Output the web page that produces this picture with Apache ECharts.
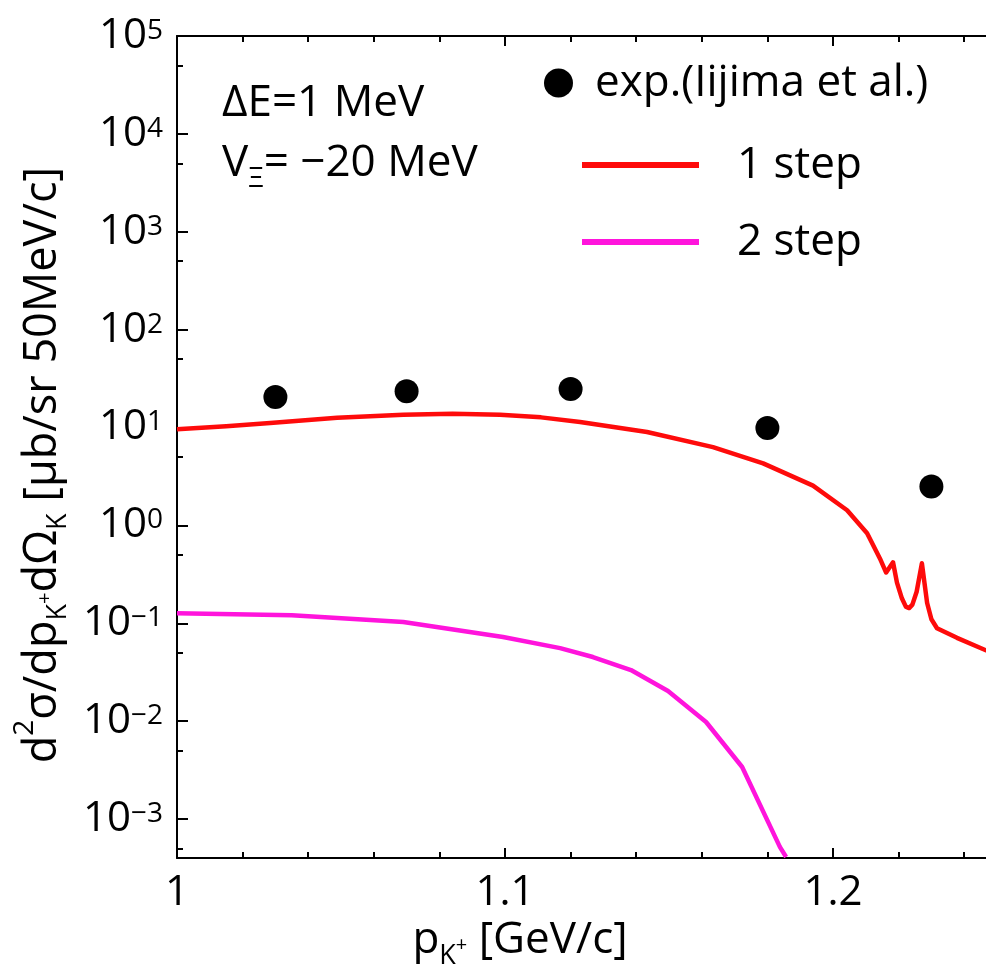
<!DOCTYPE html>
<html><head><meta charset="utf-8">
<script src="https://cdn.jsdelivr.net/npm/echarts@6/dist/echarts.min.js"></script>
<style>html,body{margin:0;padding:0;background:#fff}#c{width:986px;height:974px}</style>
</head><body><div id="c"></div>
<script>
// ---- data ----
const xMajorTicks = [1.0, 1.1, 1.2];
const xMinorTicks = [1.02, 1.04, 1.06, 1.08, 1.12, 1.14, 1.16, 1.18, 1.22, 1.24];
const yMajorTicks = [1e-3, 1e-2, 1e-1, 1e0, 1e1, 1e2, 1e3, 1e4, 1e5];
const yMinorTicks = [5e-4, 5e-3, 5e-2, 5e-1, 5e0, 5e1, 5e2, 5e3, 5e4];

const expX = [1.03, 1.07, 1.12, 1.18, 1.23];
const expY = [20.5, 23.5, 24.7, 9.9, 2.5];

const oneStepX = [1.000, 1.0150, 1.0284, 1.0488, 1.069, 1.084, 1.0985, 1.1110, 1.1229, 1.1433, 1.1634, 1.1787, 1.1939, 1.2043, 1.2104, 1.2143, 1.2162, 1.2183, 1.2195, 1.2210, 1.2222, 1.2232, 1.2242, 1.2255, 1.2271, 1.2287, 1.2300, 1.2317, 1.2378, 1.2466, 1.2500];
const oneStepY = [9.6, 10.3, 11.1, 12.6, 13.5, 13.8, 13.5, 12.7, 11.4, 9.0, 6.3, 4.3, 2.55, 1.43, 0.83, 0.46, 0.33, 0.42, 0.26, 0.18, 0.148, 0.143, 0.155, 0.21, 0.41, 0.161, 0.11, 0.089, 0.071, 0.053, 0.050];

const twoStepX = [1.000, 1.035, 1.069, 1.0994, 1.1168, 1.1268, 1.1384, 1.1497, 1.1613, 1.1723, 1.1838, 1.1857];
const twoStepY = [0.127, 0.121, 0.103, 0.0723, 0.0558, 0.0452, 0.0333, 0.0203, 0.0098, 0.0034, 0.00052, 0.00041];

const FONT = '"Open Sans", "Noto Sans", sans-serif';
const zip = (xs, ys) => xs.map((x, i) => [x, ys[i]]);

const chart = echarts.init(document.getElementById('c'));
const xBase = {
  type: 'value', min: 1, max: 1.25, gridIndex: 0,
  splitLine: {show: false}
};
const yBase = {
  type: 'log', logBase: 10, min: 4e-4, max: 1e5, gridIndex: 0,
  splitLine: {show: false}, minorSplitLine: {show: false}, minorTick: {show: false}
};
const lineStyle = {color: '#000', width: 2};

const sup = n => (n < 0 ? '\u2212' + (-n) : '' + n);

chart.setOption({
  animation: false,
  backgroundColor: '#fff',
  textStyle: {fontFamily: FONT, color: '#000'},
  grid: {left: 177, right: -11, top: 36, bottom: 116, containLabel: false, outerBoundsMode: 'none'},
  xAxis: [
    Object.assign({}, xBase, {
      position: 'bottom',
      axisLine: {show: true, lineStyle},
      axisTick: {show: true, inside: true, length: 10, lineStyle, customValues: xMajorTicks},
      axisLabel: {
        show: true, customValues: xMajorTicks, margin: 14,
        fontSize: 42, fontFamily: FONT, color: '#000',
        formatter: v => (Math.abs(v - 1) < 1e-9 ? '1' : v.toFixed(1))
      },
      name: '{m|p}{k|K}{pl|+}{m| [GeV/c]}',
      nameLocation: 'middle', nameGap: 54,
      nameTextStyle: {
        fontFamily: FONT, color: '#000', fontSize: 44, padding: [0, 134, 0, 0],
        rich: {
          m: {fontSize: 44, fontFamily: FONT, lineHeight: 50, verticalAlign: 'top'},
          k: {fontSize: 27, fontFamily: FONT, lineHeight: 27, padding: [24, 0, 0, 0], verticalAlign: 'top'},
          pl: {fontSize: 20, fontFamily: FONT, lineHeight: 20, padding: [16, 0, 0, 0], verticalAlign: 'top'}
        }
      }
    }),
    Object.assign({}, xBase, {
      position: 'bottom',
      axisLine: {show: false},
      axisTick: {show: true, inside: true, length: 6, lineStyle, customValues: xMinorTicks},
      axisLabel: {show: false}
    }),
    Object.assign({}, xBase, {
      position: 'top',
      axisLine: {show: true, lineStyle},
      axisTick: {show: true, inside: true, length: 10, lineStyle, customValues: xMajorTicks},
      axisLabel: {show: false}
    }),
    Object.assign({}, xBase, {
      position: 'top',
      axisLine: {show: false},
      axisTick: {show: true, inside: true, length: 6, lineStyle, customValues: xMinorTicks},
      axisLabel: {show: false}
    })
  ],
  yAxis: [
    Object.assign({}, yBase, {
      position: 'left',
      axisLine: {show: true, lineStyle},
      axisTick: {show: true, inside: true, length: 11, lineStyle, customValues: yMajorTicks},
      axisLabel: {
        show: true, customValues: yMajorTicks, margin: 14,
        fontFamily: FONT, color: '#000',
        formatter: v => '{b|10}{s|' + sup(Math.round(Math.log10(v))) + '}',
        rich: {
          b: {fontSize: 42, fontFamily: FONT, lineHeight: 42, padding: [16, 0, 0, 0], verticalAlign: 'bottom'},
          s: {fontSize: 28, fontFamily: FONT, lineHeight: 28, padding: [2, 0, 0, 0], verticalAlign: 'top'}
        }
      },
      name: '{m|d}{u|2}{m|σ/dp}{k|K}{pl|+}{m|dΩ}{k|K}{m| [μb/sr 50MeV/c]}',
      nameLocation: 'middle', nameGap: 95, nameRotate: 90,
      nameTextStyle: {
        fontFamily: FONT, color: '#000', fontSize: 44, padding: [0, 36, 0, 0],
        rich: {
          m: {fontSize: 45, fontFamily: FONT, lineHeight: 50, padding: [10, 0, 0, 0], verticalAlign: 'top'},
          u: {fontSize: 28, fontFamily: FONT, lineHeight: 28, padding: [0, 0, 0, 0], verticalAlign: 'top'},
          k: {fontSize: 27, fontFamily: FONT, lineHeight: 27, padding: [34, 0, 0, 0], verticalAlign: 'top'},
          pl: {fontSize: 20, fontFamily: FONT, lineHeight: 20, padding: [24, 0, 0, 0], verticalAlign: 'top'}
        }
      }
    }),
    Object.assign({}, yBase, {
      position: 'left',
      axisLine: {show: false},
      axisTick: {show: true, inside: true, length: 6, lineStyle, customValues: yMinorTicks},
      axisLabel: {show: false}
    })
  ],
  legend: [
    {
      data: ['exp.(Iijima et al.)'], left: 544, top: 61, padding: 0,
      icon: 'circle', itemWidth: 29, itemHeight: 29,
      itemStyle: {color: '#000', opacity: 1},
      textStyle: {fontSize: 44, fontFamily: FONT, color: '#000', lineHeight: 44, padding: [0, 0, 0, 17]},
      selectedMode: false
    },
    {
      data: ['1 step'], left: 582, top: 143, padding: 0,
      icon: 'rect', itemWidth: 117, itemHeight: 6,
      textStyle: {fontSize: 44, fontFamily: FONT, color: '#000', lineHeight: 44, padding: [0, 0, 0, 33]},
      selectedMode: false
    },
    {
      data: ['2 step'], left: 582, top: 214, padding: 0,
      icon: 'rect', itemWidth: 117, itemHeight: 6,
      textStyle: {fontSize: 44, fontFamily: FONT, color: '#000', lineHeight: 44, padding: [12, 0, 0, 33]},
      selectedMode: false
    }
  ],
  graphic: [
    {type: 'text', x: 222, y: 103, style: {text: 'ΔE=1 MeV', font: '44px ' + FONT, fill: '#000', verticalAlign: 'middle', align: 'left'}},
    {type: 'text', x: 222, y: 166, style: {
      text: '{m|V}{k|Ξ}{m|= \u221220 MeV}', fill: '#000', verticalAlign: 'middle', align: 'left',
      rich: {
        m: {fontSize: 44, fontFamily: FONT, lineHeight: 50, verticalAlign: 'top', fill: '#000'},
        k: {fontSize: 28, fontFamily: FONT, lineHeight: 28, padding: [24, 0, 0, 0], verticalAlign: 'top', fill: '#000'}
      }
    }}
  ],
  series: [
    {
      name: 'exp.(Iijima et al.)', type: 'scatter', xAxisIndex: 0, yAxisIndex: 0,
      data: zip(expX, expY), symbol: 'circle', symbolSize: 24,
      itemStyle: {color: '#000', opacity: 1}, z: 5
    },
    {
      name: '1 step', type: 'line', xAxisIndex: 0, yAxisIndex: 0,
      data: zip(oneStepX, oneStepY), showSymbol: false, symbol: 'none',
      lineStyle: {color: '#fe0b0b', width: 4.5, join: 'round'}, itemStyle: {color: '#fe0b0b'}, clip: true
    },
    {
      name: '2 step', type: 'line', xAxisIndex: 0, yAxisIndex: 0,
      data: zip(twoStepX, twoStepY), showSymbol: false, symbol: 'none',
      lineStyle: {color: '#ff14dc', width: 4.5, join: 'round'}, itemStyle: {color: '#ff14dc'}, clip: true
    }
  ]
});
</script>
</body></html>
